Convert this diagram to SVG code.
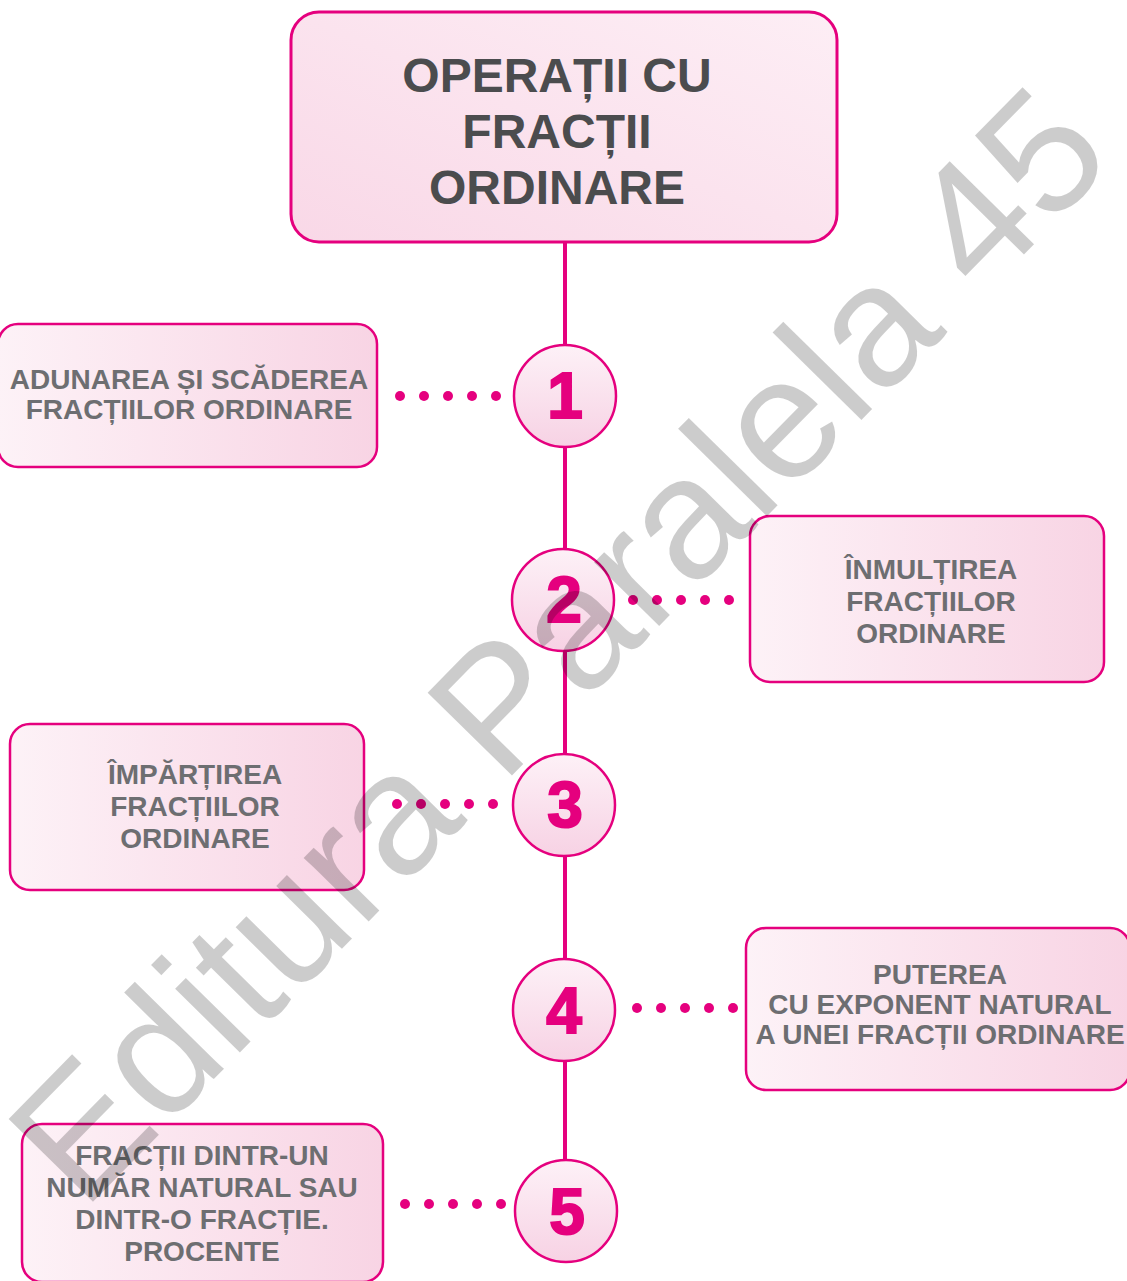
<svg xmlns="http://www.w3.org/2000/svg" width="1127" height="1281" viewBox="0 0 1127 1281">
  <defs>
    <linearGradient id="boxGrad" x1="0" y1="0" x2="1" y2="0">
      <stop offset="0" stop-color="#fdf2f7"/>
      <stop offset="1" stop-color="#f8d4e4"/>
    </linearGradient>
    <linearGradient id="titleGrad" x1="1" y1="0" x2="0" y2="1">
      <stop offset="0" stop-color="#fdeef5"/>
      <stop offset="1" stop-color="#f9d8e7"/>
    </linearGradient>
    <linearGradient id="circGrad" x1="0" y1="0" x2="0" y2="1">
      <stop offset="0" stop-color="#fdf1f7"/>
      <stop offset="1" stop-color="#f7d2e4"/>
    </linearGradient>
    <style>
      .box{fill:url(#boxGrad);stroke:#e5007e;stroke-width:2.5}
      .title{fill:url(#titleGrad);stroke:#e5007e;stroke-width:3}
      .circ{fill:url(#circGrad);stroke:#e5007e;stroke-width:2.5}
      .lbl{font-family:"Liberation Sans",Arial,sans-serif;font-weight:bold;font-size:28px;fill:#6d6e71;text-anchor:middle}
      .ttl{font-family:"Liberation Sans",Arial,sans-serif;font-weight:bold;font-size:48px;fill:#4b4c4e;text-anchor:middle}
      .num{font-family:"Liberation Sans",Arial,sans-serif;font-weight:bold;font-size:64px;fill:#e5007e;stroke:#e5007e;stroke-width:2;text-anchor:middle}
      .spine{stroke:#e5007e;stroke-width:4;fill:none}
      .dot{fill:#e5007e}
      .wm{font-family:"Liberation Sans",Arial,sans-serif;font-size:172px;fill:#000;fill-opacity:0.2;text-anchor:middle}
    </style>
  </defs>

  <g id="connectors">
    <line class="spine" x1="565" y1="242" x2="565" y2="1165"/>
    <g id="dots1">
      <circle class="dot" cx="400" cy="396" r="5"/><circle class="dot" cx="424" cy="396" r="5"/><circle class="dot" cx="448" cy="396" r="5"/><circle class="dot" cx="472" cy="396" r="5"/><circle class="dot" cx="496" cy="396" r="5"/>
    </g>
    <g id="dots2">
      <circle class="dot" cx="633" cy="600" r="5"/><circle class="dot" cx="657" cy="600" r="5"/><circle class="dot" cx="681" cy="600" r="5"/><circle class="dot" cx="705" cy="600" r="5"/><circle class="dot" cx="729" cy="600" r="5"/>
    </g>
    <g id="dots3">
      <circle class="dot" cx="397" cy="804" r="5"/><circle class="dot" cx="421" cy="804" r="5"/><circle class="dot" cx="445" cy="804" r="5"/><circle class="dot" cx="469" cy="804" r="5"/><circle class="dot" cx="493" cy="804" r="5"/>
    </g>
    <g id="dots4">
      <circle class="dot" cx="637" cy="1008" r="5"/><circle class="dot" cx="661" cy="1008" r="5"/><circle class="dot" cx="685" cy="1008" r="5"/><circle class="dot" cx="709" cy="1008" r="5"/><circle class="dot" cx="733" cy="1008" r="5"/>
    </g>
    <g id="dots5">
      <circle class="dot" cx="405" cy="1204" r="5"/><circle class="dot" cx="429" cy="1204" r="5"/><circle class="dot" cx="453" cy="1204" r="5"/><circle class="dot" cx="477" cy="1204" r="5"/><circle class="dot" cx="501" cy="1204" r="5"/>
    </g>
  </g>

  <g id="title">
    <rect class="title" x="291" y="12" width="546" height="230" rx="28"/>
    <text class="ttl" x="557" y="92">OPERAȚII CU</text>
    <text class="ttl" x="557" y="148">FRACȚII</text>
    <text class="ttl" x="557" y="204">ORDINARE</text>
  </g>

  <g id="n1">
    <circle class="circ" cx="565" cy="396" r="51"/>
    <text class="num" x="565" y="418">1</text>
  </g>
  <g id="n2">
    <circle class="circ" cx="563" cy="600" r="51"/>
    <text class="num" x="564" y="622">2</text>
  </g>
  <g id="n3">
    <circle class="circ" cx="564" cy="805" r="51"/>
    <text class="num" x="565" y="827">3</text>
  </g>
  <g id="n4">
    <circle class="circ" cx="564" cy="1010" r="51"/>
    <text class="num" x="564" y="1033">4</text>
  </g>
  <g id="n5">
    <circle class="circ" cx="566" cy="1211" r="51"/>
    <text class="num" x="567" y="1234">5</text>
  </g>

  <g id="box1">
    <rect class="box" x="-2" y="324" width="379" height="143" rx="20"/>
    <text class="lbl" x="189" y="389">ADUNAREA ȘI SCĂDEREA</text>
    <text class="lbl" x="189" y="419">FRACȚIILOR ORDINARE</text>
  </g>
  <g id="box2">
    <rect class="box" x="750" y="516" width="354" height="166" rx="20"/>
    <text class="lbl" x="931" y="579">ÎNMULȚIREA</text>
    <text class="lbl" x="931" y="611">FRACȚIILOR</text>
    <text class="lbl" x="931" y="643">ORDINARE</text>
  </g>
  <g id="box3">
    <rect class="box" x="10" y="724" width="354" height="166" rx="20"/>
    <text class="lbl" x="195" y="784">ÎMPĂRȚIREA</text>
    <text class="lbl" x="195" y="816">FRACȚIILOR</text>
    <text class="lbl" x="195" y="848">ORDINARE</text>
  </g>
  <g id="box4">
    <rect class="box" x="746" y="928" width="384" height="162" rx="20"/>
    <text class="lbl" x="940" y="984">PUTEREA</text>
    <text class="lbl" x="940" y="1014">CU EXPONENT NATURAL</text>
    <text class="lbl" x="940" y="1044">A UNEI FRACȚII ORDINARE</text>
  </g>
  <g id="box5">
    <rect class="box" x="22" y="1124" width="361" height="158" rx="20"/>
    <text class="lbl" x="202" y="1165">FRACȚII DINTR-UN</text>
    <text class="lbl" x="202" y="1197">NUMĂR NATURAL SAU</text>
    <text class="lbl" x="202" y="1229">DINTR-O FRACȚIE.</text>
    <text class="lbl" x="202" y="1261">PROCENTE</text>
  </g>

  <text class="wm" x="600" y="686" transform="rotate(-45.5 600 686)" textLength="1475" lengthAdjust="spacingAndGlyphs">Editura Paralela 45</text>
</svg>
